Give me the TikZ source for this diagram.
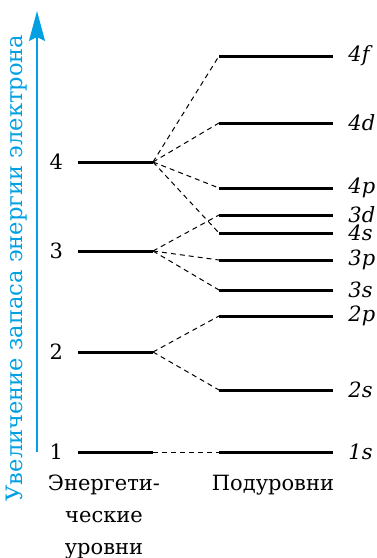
\documentclass[tikz,border=0pt]{standalone}
\usepackage{fontspec}
\setmainfont{DejaVu Serif}
\usetikzlibrary{arrows.meta}
\definecolor{arrblue}{RGB}{0,160,227}
\tikzset{
	level/.style={line width=1.5pt},
	link/.style={line width=0.5pt, dash pattern=on 2.5pt off 2pt},
	lab/.style={font=\fontsize{10.5}{16}\selectfont}
}
\begin{document}
\begin{tikzpicture}[x=0.5pt, y=-0.5pt, line join=round, >=stealth]
	\useasboundingbox (0,0) rectangle (376,558);
	%% Energeticheskie urovni
	\foreach \n/\y in {1/452,2/352,3/251,4/162}{
		\path (78,\y) coordinate (L\n a) (153,\y) coordinate (L\n b);
		\draw[level] (L\n a)--(L\n b);
		\node[lab, left=4pt] (n\n) at (L\n a) {\n};
	}
	%% Podurovni
	\foreach \s/\y in {1s/452,2s/390,2p/316,3s/290,3p/260,4s/233,3d/215,4p/188,4d/123,4f/56}{
		\path (219,\y) coordinate (S\s a) (333,\y) coordinate (S\s b);
		\draw[level] (S\s a)--(S\s b);
		\node[lab, inner sep=0pt, right=7.5pt] (t\s) at (S\s b) {\textit{\s}};
	}
	%% shtrikhovye linii
	\foreach \a/\s in {1/1s,2/2s,2/2p,3/3s,3/3p,3/3d,4/4s,4/4p,4/4d,4/4f}
	\draw[link] (L\a b)--(S\s a);
	%% strelka
	\path (37,452) coordinate (ax0) (37,11) coordinate (ax1);
	\draw[arrblue, line width=0.75pt, -{Stealth[length=15pt, width=8pt, inset=2pt]}] (ax0)--(ax1);
	\node[arrblue, rotate=90, font=\fontsize{11.3}{14}\selectfont] (axlab) at (17,268) {Увеличение запаса энергии электрона};
	%% podpisi
	\node[lab, align=center] (cap1) at (104,517) {Энергети-\\ческие\\уровни};
	\node[lab] (cap2) at (273,485) {Подуровни};
\end{tikzpicture}
\end{document}
